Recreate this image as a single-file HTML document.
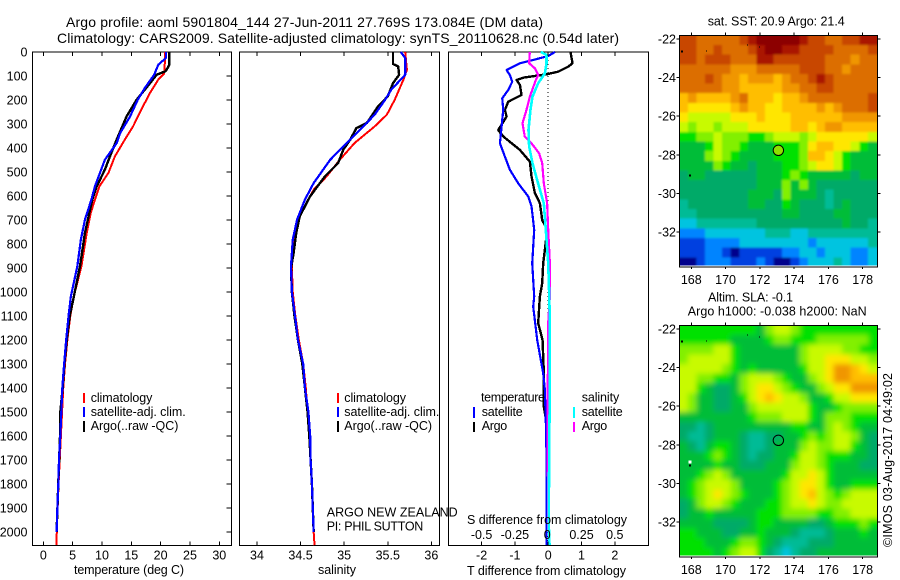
<!DOCTYPE html>
<html lang="en">
<head>
<meta charset="utf-8">
<title>Argo profile</title>
<style>
html,body{margin:0;padding:0;background:#fff;width:900px;height:580px;overflow:hidden}
svg{display:block}
text{font-family:"Liberation Sans",sans-serif;font-size:12.5px;fill:#000}
.ttl{font-size:14px}
</style>
</head>
<body>
<svg id="chart" width="900" height="580" viewBox="0 0 900 580">
  <defs>
    <filter id="blur-sst" filterUnits="userSpaceOnUse" x="650" y="10" width="250" height="280"><feGaussianBlur stdDeviation="1.1"/></filter>
    <filter id="blur-sla" filterUnits="userSpaceOnUse" x="650" y="300" width="250" height="280"><feGaussianBlur stdDeviation="2.6"/></filter>
    <clipPath id="clip-sst"><rect x="680" y="35.5" width="197" height="230"/></clipPath>
    <clipPath id="clip-sla"><rect x="680" y="325.5" width="197" height="230"/></clipPath>
  </defs>
  <rect x="0" y="0" width="900" height="580" fill="#fff"/>
  <text class="ttl" x="66" y="27" textLength="477">Argo profile: aoml 5901804_144 27-Jun-2011 27.769S 173.084E (DM data)</text>
  <text class="ttl" x="57" y="43" textLength="562">Climatology: CARS2009. Satellite-adjusted climatology: synTS_20110628.nc (0.54d later)</text>

  <g id="plots"></g>
  <g id="maps"></g>

  <text x="74" y="574" textLength="110">temperature (deg C)</text>
  <text x="318" y="574" textLength="38">salinity</text>
  <text x="467" y="575" textLength="159">T difference from climatology</text>
  <text x="467" y="524" textLength="160">S difference from climatology</text>

  <g>
    <rect x="83" y="393" width="2" height="10" fill="#f00"/>
    <rect x="83" y="407" width="2" height="10" fill="#00f"/>
    <rect x="83" y="421" width="2" height="11" fill="#000"/>
    <text x="90.7" y="402" textLength="61.7">climatology</text>
    <text x="90.7" y="416" textLength="95">satellite-adj. clim.</text>
    <text x="90.7" y="430" textLength="87.7">Argo(..raw -QC)</text>
  </g>
  <g>
    <rect x="337" y="393" width="2" height="10" fill="#f00"/>
    <rect x="337" y="407" width="2" height="10" fill="#00f"/>
    <rect x="337" y="421" width="2" height="11" fill="#000"/>
    <text x="344.3" y="402" textLength="61.7">climatology</text>
    <text x="344.3" y="416" textLength="95">satellite-adj. clim.</text>
    <text x="344.3" y="430" textLength="87.7">Argo(..raw -QC)</text>
  </g>
  <text x="326.7" y="516.7" textLength="131">ARGO NEW ZEALAND</text>
  <text x="326.7" y="530.7" textLength="96.6">PI: PHIL SUTTON</text>

  <g>
    <text x="481" y="401.7" textLength="64">temperature</text>
    <text x="481.7" y="416" textLength="41">satellite</text>
    <text x="481.7" y="430" textLength="25.5">Argo</text>
    <rect x="473" y="407" width="2" height="11" fill="#00f"/>
    <rect x="473" y="422" width="2" height="10" fill="#000"/>
    <text x="581.7" y="401.7" textLength="37.5">salinity</text>
    <text x="581.7" y="416" textLength="41">satellite</text>
    <text x="581.7" y="430" textLength="25.5">Argo</text>
    <rect x="573" y="407" width="2" height="11" fill="#0ff"/>
    <rect x="573" y="422" width="2" height="10" fill="#f0f"/>
  </g>

  <text x="707.7" y="25.7" textLength="137">sat. SST: 20.9 Argo: 21.4</text>
  <text x="708" y="301.7" textLength="85">Altim. SLA: -0.1</text>
  <text x="687.7" y="315.7" textLength="179">Argo h1000: -0.038 h2000: NaN</text>
  <text transform="translate(892 547) rotate(-90)" x="0" y="0" textLength="174">©IMOS 03-Aug-2017 04:49:02</text>
</svg>

<script>
// ---------- profile chart data ----------
const depthTicks = [0,100,200,300,400,500,600,700,800,900,1000,1100,1200,1300,1400,1500,1600,1700,1800,1900,2000];
const tempTicks = [0,5,10,15,20,25,30];
const salTicks = [34,34.5,35,35.5,36];
const salTickLabels = ['34','34.5','35','35.5','36'];
const tDiffTicks = [-2,-1,0,1,2];
const tDiffTickLabels = ['-2','-1','0','1','2'];
const sDiffTicks = [-0.5,-0.25,0,0.25,0.5];
const sDiffTickLabels = ['-0.5','-0.25','0','0.25','0.5'];

const tempClimDepth = [0,50,90,115,170,226,310,365,435,504,560,615,670,754,893,1018,1100,1200,1300,1400,1500,1600,1700,1800,1900,2000,2055];
const tempClim = [20.7,20.7,20.6,19.6,18.2,17.0,15.3,13.9,12.2,11.1,9.55,8.8,8.1,7.4,6.5,5.2,4.6,4.1,3.7,3.4,3.2,3.0,2.8,2.6,2.45,2.3,2.25];
const tempArgoDepth = [0,53,80,95,136,199,268,365,420,490,560,615,754,893,1032,1100,1200,1300,1400,1500,1600,1800,2000];
const tempArgo = [21.5,21.5,20.85,19.3,18,15.9,14.2,12.5,11.6,10.5,9.1,8.35,7.1,6.25,5.1,4.5,4,3.6,3.3,2.9,2.85,2.55,2.27];
const tempSatDepth = [0,25,53,95,150,199,268,338,380,449,504,560,615,698,782,893,1018,1100,1200,1300,1400,1500,1600,1700,1800,1900,2000];
const tempSat = [20.9,20.9,19.6,18.9,17.3,16.1,14.8,13.1,12.5,10.5,9.65,8.8,8.2,7.1,6.4,5.8,4.7,4.3,3.9,3.55,3.24,3.07,2.9,2.67,2.56,2.4,2.27];

const salClimDepth = [0,74,115,199,261,310,379,449,518,574,685,800,900,1000,1100,1200,1300,1400,1500,1600,1700,1800,1900,2000,2055];
const salClim = [35.7,35.72,35.68,35.58,35.49,35.35,35.12,34.95,34.8,34.65,34.49,34.42,34.4,34.41,34.44,34.48,34.53,34.56,34.58,34.6,34.615,34.63,34.64,34.65,34.66];
const salArgoDepth = [0,50,60,95,130,185,226,296,317,365,407,463,518,601,685,754,838,900,1000,1100,1200,1300,1400,1500,1600,1800,2000];
const salArgo = [35.56,35.56,35.62,35.63,35.56,35.5,35.39,35.26,35.14,35.07,34.99,34.93,34.78,34.61,34.49,34.45,34.42,34.39,34.4,34.43,34.47,34.52,34.55,34.58,34.6,34.63,34.65];
const salSatDepth = [0,25,95,157,199,261,310,379,449,546,615,698,782,893,1000,1100,1200,1300,1400,1500,1600,1700,1800,1900,2000];
const salSat = [35.65,35.7,35.7,35.54,35.47,35.35,35.22,35.03,34.84,34.65,34.55,34.46,34.41,34.39,34.4,34.436,34.47,34.53,34.55,34.59,34.61,34.615,34.63,34.64,34.65];

const tDiffArgoDepth = [0,47,61,82,93,107,117,137,179,207,241,269,325,352,408,457,519,588,630,700,741,824,880,963,1019,1061,1130,1200,1339,1478,1547,1686,1964];
const tDiffArgo = [0.67,0.73,0.6,0.3,-0.05,-0.75,-0.95,-0.85,-0.8,-1.2,-1.3,-1.25,-1.5,-1.35,-0.85,-0.55,-0.5,-0.4,-0.25,-0.18,-0.03,-0.1,-0.15,-0.18,-0.25,-0.27,-0.3,-0.17,-0.13,-0.13,-0.05,-0.05,-0.03];
const tDiffSatDepth = [0,17,33,47,75,96,124,158,193,241,311,380,436,491,547,602,644,741,880,1019,1061,1200,1339,1408,1547,1686,1964,2055];
const tDiffSat = [0.2,0,-0.45,-0.85,-1.25,-1.15,-1.08,-1.2,-1.38,-1.35,-1.4,-1.45,-1.3,-1.15,-0.9,-0.6,-0.5,-0.42,-0.48,-0.42,-0.45,-0.33,-0.15,-0.1,-0.07,-0.05,-0.05,-0.05];
const sDiffArgoDepth = [0,47,68,96,117,186,241,297,352,380,422,463,547,630,741,880,1019,1130,1550,2000];
const sDiffArgo = [-0.138,-0.143,-0.1,-0.075,-0.093,-0.138,-0.163,-0.193,-0.176,-0.126,-0.068,-0.045,-0.033,-0.008,0,0.0125,0.0125,0,-0.005,0];
const sDiffSatDepth = [0,12,47,89,130,186,241,325,394,463,533,630,741,880,1019,1130,1400,1614,1964,2055];
const sDiffSat = [-0.055,-0.0125,-0.0125,-0.025,-0.075,-0.118,-0.133,-0.148,-0.143,-0.118,-0.083,-0.033,-0.018,0,0.008,0.0125,0.0125,0.008,0.004,0.01];

// ---------- map data (colour class of each half-degree block, north to south) ----------
const mapLonStart = 167.3;
const mapLatStart = -21.81;
const mapCellDeg = 0.5;
const lonTicks = [168,170,172,174,176,178];
const latTicks = [-22,-24,-26,-28,-30,-32];
const sstGrid = [
[14,14,13,13,13,13,13,14,15,16,16,16,16,16,15,14,14,13,13,14,14,15,15],
[14,14,13,13,14,13,13,13,14,15,16,16,15,15,14,14,14,14,13,13,13,13,14],
[14,14,13,14,14,14,13,13,13,15,15,14,14,14,14,14,14,13,13,13,12,13,13],
[13,13,13,13,13,13,12,12,12,13,13,13,13,13,14,14,14,13,13,12,13,13,13],
[13,13,13,14,13,12,12,11,12,12,12,11,12,13,13,14,15,14,13,13,13,13,13],
[13,13,13,13,13,12,12,11,11,11,11,11,12,12,13,13,14,14,13,13,13,13,13],
[11,12,11,11,11,11,12,13,11,11,11,10,11,11,12,13,13,13,13,13,13,13,14],
[11,10,10,10,10,10,11,12,11,11,10,10,11,11,11,11,12,11,12,13,13,13,14],
[10,9,9,9,9,9,10,10,10,11,10,10,10,11,11,11,11,11,11,12,12,12,12],
[9,8,9,9,8,9,9,9,10,10,10,10,10,11,11,10,11,12,12,11,11,11,11],
[7,7,8,8,9,8,8,8,7,7,8,9,9,9,8,9,10,10,10,10,10,10,9],
[6,6,6,7,9,8,8,7,6,6,6,7,7,7,8,10,11,11,10,10,9,7,6],
[6,6,6,8,9,8,7,6,6,6,6,7,7,7,8,11,11,10,9,7,6,6,6],
[6,6,6,6,8,7,6,6,5,6,6,6,7,7,8,9,10,10,9,7,6,6,6],
[5,6,6,5,5,5,5,5,5,6,6,6,7,8,7,6,6,6,6,6,5,6,6],
[5,5,5,5,5,5,5,5,5,6,6,6,8,6,8,6,5,5,5,5,5,5,5],
[5,5,5,5,5,5,5,5,6,6,6,5,8,6,6,6,5,4,5,5,5,5,5],
[4,5,5,5,5,5,5,5,6,6,5,5,7,6,5,5,5,4,5,6,5,5,5],
[4,4,5,5,5,5,5,5,5,5,5,5,6,6,5,5,5,5,6,6,5,5,5],
[3,3,4,4,4,4,4,4,4,5,5,5,5,5,5,5,5,5,5,6,5,5,4],
[2,2,2,3,3,3,3,3,3,3,4,4,4,3,3,4,4,4,4,4,4,4,4],
[1,1,1,2,2,2,2,3,3,3,3,3,3,3,3,2,3,3,3,3,3,3,4],
[1,1,1,2,2,1,0,1,1,1,1,1,2,2,3,3,2,3,3,3,2,2,3],
[0,0,1,2,2,2,1,1,1,2,1,0,0,1,2,3,3,3,4,3,2,2,3]
];
const slaGrid = [
[7,7,7,7,7,7,7,7,7,6,8,9,9,8,7,7,7,7,7,7,7,7,7],
[7,7,7,7,7,7,6,6,6,6,7,8,8,7,7,7,8,8,8,8,8,8,7],
[8,8,8,8,9,9,7,6,6,6,6,6,6,6,8,9,9,9,9,8,8,7,7],
[8,9,9,9,9,9,7,6,6,6,6,6,6,6,8,9,9,10,10,10,9,9,8],
[9,9,9,9,9,8,7,6,7,6,6,6,6,6,7,9,9,10,12,12,11,10,9],
[9,9,8,8,7,7,6,8,9,9,9,8,7,6,6,8,9,10,12,12,11,11,11],
[9,9,7,6,5,5,6,8,9,10,10,9,8,7,6,6,8,9,10,10,12,12,12],
[9,8,6,6,5,5,6,7,9,10,11,10,9,9,8,6,6,7,9,9,10,10,10],
[9,8,6,6,5,5,6,6,8,9,9,9,9,9,9,7,6,6,7,8,8,8,8],
[6,6,6,6,6,6,6,6,7,8,8,8,9,9,9,7,6,8,8,8,7,7,7],
[5,5,4,5,6,6,6,6,6,6,6,6,6,7,7,6,6,8,9,8,7,6,6],
[5,4,4,5,6,6,6,5,4,4,5,5,6,6,7,8,7,8,9,9,8,6,5],
[6,5,4,6,7,7,6,5,4,4,5,6,6,6,8,9,8,8,9,9,7,6,5],
[6,6,6,7,8,7,6,5,4,5,5,6,6,7,9,9,8,7,7,7,6,6,5],
[6,6,6,6,7,6,6,5,5,5,6,6,6,8,9,9,8,7,6,6,6,5,5],
[6,6,7,8,9,8,6,6,6,6,6,6,7,9,9,10,9,7,6,6,6,6,6],
[6,7,8,9,9,9,8,6,6,6,6,7,8,9,10,10,9,7,6,6,7,7,7],
[6,7,8,9,10,9,8,7,6,6,6,7,8,9,10,11,9,8,7,8,9,9,9],
[5,6,8,9,9,8,7,6,6,6,7,7,8,9,9,10,9,8,8,9,9,9,9],
[5,6,6,7,6,6,6,6,6,7,7,7,8,8,8,8,7,7,8,8,9,9,9],
[6,6,6,6,5,5,5,5,6,7,7,6,6,6,6,5,5,6,7,7,7,8,7],
[7,7,6,6,6,5,5,6,6,7,6,6,6,5,4,4,4,5,6,6,6,7,6],
[7,7,7,6,6,6,7,8,8,7,6,5,4,4,4,5,5,5,6,6,6,6,6],
[7,7,7,7,6,7,8,9,9,7,5,4,3,4,5,5,6,6,6,6,6,6,6]
];
const argoLon = 173.08;
const argoLat = -27.77;
const islandLons = [167.45,167.92,168.93,171.3,172.0];
const islandLats = [-22.65,-29.08,-22.65,-22.33,-22.45];

// ---------- drawing ----------
const NS = 'http://www.w3.org/2000/svg';
const plots = document.getElementById('plots');
const maps = document.getElementById('maps');

function make(parent, tag, attrs, txt) {
  const e = document.createElementNS(NS, tag);
  for (const k in attrs) e.setAttribute(k, attrs[k]);
  if (txt !== undefined) e.textContent = txt;
  parent.appendChild(e);
  return e;
}

const yDepth = d => 52 + d * 0.24;
const xTemp = v => 43.3 + v * 5.867;
const xSal = v => 257 + (v - 34) * 87.17;
const xTDiff = v => 548.2 + v * 33.3;
const xSDiff = v => 548.2 + v * 133.2;

const panelTop = 52, panelBottom = 545.3;

function drawSeries(depths, values, xFn, color, width, name) {
  const pts = depths.map((d, i) => xFn(values[i]).toFixed(2) + ',' + yDepth(d).toFixed(2)).join(' ');
  const el = make(plots, 'polyline', {points: pts, fill: 'none', stroke: color, 'stroke-width': width, 'shape-rendering': 'crispEdges', 'stroke-linejoin': 'round'});
  
  
}

function drawBox(x0, x1, name) {
  const el = make(plots, 'rect', {x: x0, y: panelTop, width: x1 - x0, height: panelBottom - panelTop, fill: 'none', stroke: '#000', 'stroke-width': 1, 'shape-rendering': 'crispEdges'});
  
  
}

function drawXAxis(ticks, labels, xFn, prefix, baseline) {
  ticks.forEach((t, i) => {
    const x = xFn(t);
    const a = make(plots, 'path', {d: 'M' + x + ' ' + panelTop + 'v4M' + x + ' ' + panelBottom + 'v-4', stroke: '#000', 'stroke-width': 1, 'shape-rendering': 'crispEdges'});
    
    
    const l = make(plots, 'text', {x: x, y: baseline, 'text-anchor': 'middle'}, labels[i]);
    
    
  });
}

// temperature panel
drawBox(32.5, 231.5, 'temperature-panel-frame');
drawSeries(tempClimDepth, tempClim, xTemp, '#f00', 2, 'temperature-climatology-line');
drawSeries(tempArgoDepth, tempArgo, xTemp, '#000', 2.4, 'temperature-argo-line');
drawSeries(tempSatDepth, tempSat, xTemp, '#00f', 2.2, 'temperature-satellite-line');
drawXAxis(tempTicks, tempTicks.map(String), xTemp, 'temperature-axis', 559.3);
depthTicks.forEach(d => {
  const y = yDepth(d);
  const t = make(plots, 'line', {x1: 231.5, x2: 226.5, y1: y, y2: y, stroke: '#000', 'stroke-width': 1, 'shape-rendering': 'crispEdges'});
  
  
  const l = make(plots, 'text', {x: 27.5, y: y + 4.5, 'text-anchor': 'end'}, String(d));
  
  
});

// salinity panel
drawBox(239.5, 439.5, 'salinity-panel-frame');
drawSeries(salClimDepth, salClim, xSal, '#f00', 2, 'salinity-climatology-line');
drawSeries(salArgoDepth, salArgo, xSal, '#000', 2.4, 'salinity-argo-line');
drawSeries(salSatDepth, salSat, xSal, '#00f', 2.2, 'salinity-satellite-line');
drawXAxis(salTicks, salTickLabels, xSal, 'salinity-axis', 559.3);

// difference panel
drawBox(448.5, 648.5, 'difference-panel-frame');
const zeroLine = make(plots, 'line', {x1: xTDiff(0), x2: xTDiff(0), y1: panelTop, y2: panelBottom, stroke: '#000', 'stroke-width': 1, 'stroke-dasharray': '1 3', 'shape-rendering': 'crispEdges'});


drawSeries(tDiffArgoDepth, tDiffArgo, xTDiff, '#000', 2.4, 'argo-temperature-difference-line');
drawSeries(tDiffSatDepth, tDiffSat, xTDiff, '#00f', 2.2, 'satellite-temperature-difference-line');
drawSeries(sDiffArgoDepth, sDiffArgo, xSDiff, '#f0f', 2.2, 'argo-salinity-difference-line');
drawSeries(sDiffSatDepth, sDiffSat, xSDiff, '#0ff', 2.6, 'satellite-salinity-difference-line');
drawXAxis(tDiffTicks, tDiffTickLabels, xTDiff, 't-difference-axis', 559.3);
sDiffTicks.forEach((t, i) => {
  const l = make(plots, 'text', {x: xSDiff(t) - (t === 0 ? 1 : 0), y: 539, 'text-anchor': 'middle'}, sDiffTickLabels[i]);
  
  
});

// maps
const palette = ['#00008c','#0040e0','#0084ff','#00c4e0','#00bb96','#00aa68','#00bd38','#00e100','#82f000','#c8fa00','#ffe600','#ffbe00','#f09600','#dc6e00','#c84600','#aa1400','#8c0000'];
const xLon = lon => 691.3 + (lon - 168) * 17.14;

function drawMap(grid, top, name, circleFill, clipId, blurId, specks) {
  const y22 = top + 3.7;
  const yLat = lat => y22 + (-22 - lat) * 19.3;
  const bottom = top + 231.7;
  const g = make(maps, 'g', {});
  
  
  const clipped = make(g, 'g', {'clip-path': 'url(#' + clipId + ')'});
  
  
  const field = make(clipped, 'g', {filter: 'url(#' + blurId + ')'});
  
  
  grid.forEach((row, r) => {
    row.forEach((v, c) => {
      let x0 = xLon(mapLonStart + c * mapCellDeg);
      let y0 = yLat(mapLatStart - r * mapCellDeg);
      let x1 = xLon(mapLonStart + (c + 1) * mapCellDeg);
      let y1 = yLat(mapLatStart - (r + 1) * mapCellDeg);
      if (c === 0) x0 -= 12;
      if (r === 0) y0 -= 12;
      if (c === row.length - 1) x1 += 12;
      if (r === grid.length - 1) y1 += 12;
      const cell = make(field, 'rect', {x: x0, y: y0, width: x1 - x0 + 0.5, height: y1 - y0 + 0.5, fill: palette[Math.max(0, Math.min(palette.length - 1, Math.round(v)))], 'shape-rendering': 'crispEdges'});
      
      
    });
  });
  const frame = make(g, 'rect', {x: 679.5, y: top + 0.3, width: 198, height: 231.5, fill: 'none', stroke: '#000', 'stroke-width': 1, 'shape-rendering': 'crispEdges'});
  
  
  lonTicks.forEach(lon => {
    const x = xLon(lon);
    const t = make(g, 'path', {d: 'M' + x + ' ' + top + 'v-3M' + x + ' ' + bottom + 'v2', stroke: '#000', 'stroke-width': 1, 'shape-rendering': 'crispEdges'});
    
    
    const l = make(g, 'text', {x: x, y: bottom + 17, 'text-anchor': 'middle'}, String(lon));
    
    
  });
  latTicks.forEach(lat => {
    const y = yLat(lat);
    const t = make(g, 'path', {d: 'M679.5 ' + y + 'h-3M877.5 ' + y + 'h3', stroke: '#000', 'stroke-width': 1, 'shape-rendering': 'crispEdges'});
    
    
    const l = make(g, 'text', {x: 676, y: y + 4.5, 'text-anchor': 'end'}, String(lat));
    
    
  });
  const circle = make(g, 'circle', {cx: xLon(argoLon), cy: yLat(argoLat), r: 5.2, fill: circleFill, stroke: '#000', 'stroke-width': 1});
  
  
  islandLons.forEach((lon, i) => {
    const mark = make(g, 'rect', {x: xLon(lon) - 1, y: yLat(islandLats[i]) - 1, width: i < 2 ? 2 : 1, height: i < 2 ? 2 : 1, fill: '#000', 'shape-rendering': 'crispEdges'});
    
    
  });
  if (specks) {
    const gap = make(g, 'rect', {x: xLon(167.92) - 1.5, y: yLat(-28.9) - 1.5, width: 3, height: 3, fill: '#fff', 'shape-rendering': 'crispEdges'});
    
    
  }
}

drawMap(sstGrid, 35.3, 'sst-map', '#8fe000', 'clip-sst', 'blur-sst', false);
drawMap(slaGrid, 325.3, 'sla-map', 'none', 'clip-sla', 'blur-sla', true);
</script>
</body>
</html>
